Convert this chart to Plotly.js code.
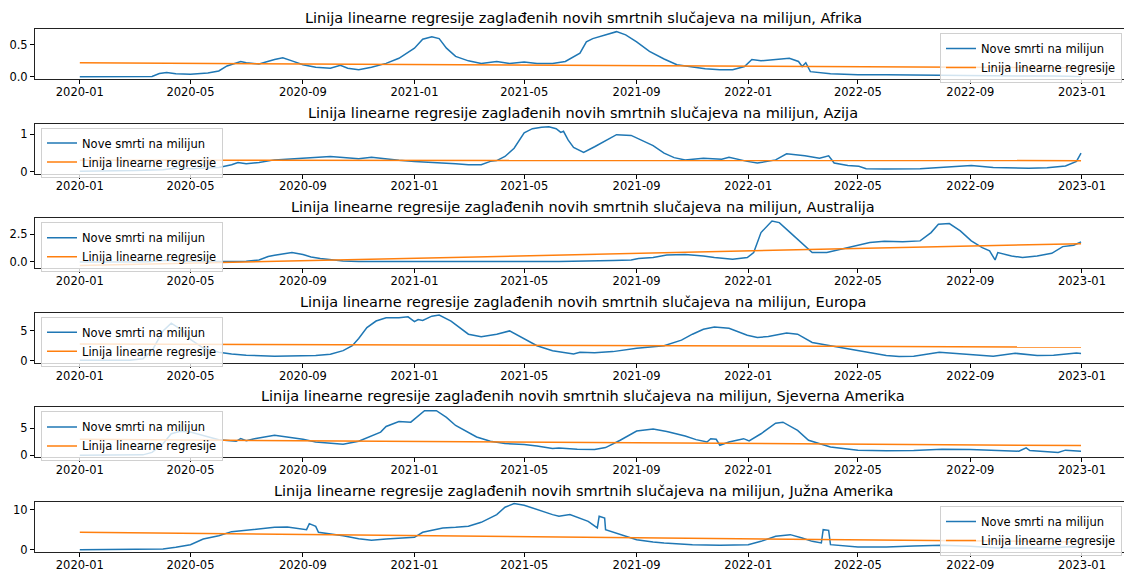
<!DOCTYPE html>
<html>
<head>
<meta charset="utf-8">
<script src="https://cdn.plot.ly/plotly-3.0.1.min.js"></script>
<style>html,body{margin:0;padding:0;background:#fff}</style>
</head>
<body>
<div id="chart" style="width:1124px;height:572px"></div>
<script>
// ---------- DATA ----------
const regionNames = ["Afrika", "Azija", "Australija", "Europa", "Sjeverna Amerika", "Južna Amerika"];
const seriesName = "Nove smrti na milijun";
const regName = "Linija linearne regresije";
const titlePrefix = "Linija linearne regresije zaglađenih novih smrtnih slučajeva na milijun, ";
const regDates = ["2020-01-01", "2022-12-31"];

const afrikaDates = ["2020-01-01","2020-03-20","2020-03-28","2020-04-05","2020-04-15","2020-05-01","2020-05-20","2020-06-01","2020-06-10","2020-06-20","2020-06-25","2020-07-01","2020-07-15","2020-08-01","2020-08-10","2020-08-20","2020-09-01","2020-09-15","2020-10-01","2020-10-12","2020-10-20","2020-11-01","2020-11-15","2020-12-01","2020-12-15","2021-01-01","2021-01-10","2021-01-20","2021-01-28","2021-02-05","2021-02-15","2021-03-01","2021-03-15","2021-04-01","2021-04-15","2021-05-01","2021-05-15","2021-06-01","2021-06-15","2021-07-01","2021-07-08","2021-07-15","2021-08-01","2021-08-10","2021-08-20","2021-09-01","2021-09-15","2021-10-01","2021-10-15","2021-11-01","2021-11-15","2021-12-01","2021-12-15","2021-12-28","2022-01-05","2022-01-15","2022-02-01","2022-02-15","2022-02-25","2022-03-01","2022-03-05","2022-03-10","2022-04-01","2022-05-01","2022-06-01","2022-07-01","2022-08-01","2022-09-01","2022-10-01","2022-11-01","2022-12-01","2022-12-31"];
const afrikaValues = [0.0,0.005,0.05,0.065,0.045,0.04,0.06,0.09,0.17,0.22,0.24,0.22,0.20,0.27,0.30,0.25,0.19,0.15,0.135,0.18,0.135,0.11,0.15,0.21,0.29,0.45,0.59,0.63,0.60,0.45,0.32,0.25,0.21,0.24,0.21,0.23,0.21,0.21,0.24,0.37,0.55,0.60,0.67,0.71,0.66,0.55,0.40,0.28,0.19,0.15,0.125,0.11,0.11,0.16,0.27,0.25,0.27,0.29,0.24,0.16,0.22,0.08,0.047,0.03,0.03,0.026,0.02,0.01,0.01,0.01,0.01,0.005];
const afrikaReg = [0.22, 0.14];

const azijaDates = ["2020-01-01","2020-02-01","2020-03-01","2020-04-01","2020-04-20","2020-05-01","2020-05-15","2020-06-01","2020-06-15","2020-06-22","2020-07-01","2020-07-15","2020-08-01","2020-08-15","2020-09-01","2020-09-15","2020-10-01","2020-10-15","2020-11-01","2020-11-15","2020-12-01","2020-12-15","2021-01-01","2021-01-15","2021-02-01","2021-02-15","2021-03-01","2021-03-15","2021-03-25","2021-04-01","2021-04-10","2021-04-20","2021-05-01","2021-05-10","2021-05-20","2021-05-28","2021-06-05","2021-06-10","2021-06-13","2021-06-18","2021-06-24","2021-07-05","2021-07-17","2021-07-29","2021-08-10","2021-08-26","2021-09-07","2021-09-19","2021-10-01","2021-10-12","2021-10-24","2021-11-13","2021-12-03","2021-12-11","2021-12-31","2022-01-11","2022-01-31","2022-02-12","2022-03-04","2022-03-20","2022-03-30","2022-04-05","2022-04-20","2022-05-02","2022-05-10","2022-05-30","2022-07-08","2022-08-17","2022-09-02","2022-09-26","2022-11-04","2022-11-24","2022-12-14","2022-12-26","2022-12-31"];
const azijaValues = [0.02,0.026,0.035,0.06,0.12,0.087,0.095,0.12,0.19,0.25,0.22,0.25,0.32,0.34,0.36,0.39,0.41,0.38,0.35,0.39,0.34,0.31,0.28,0.26,0.25,0.22,0.19,0.19,0.28,0.30,0.41,0.63,1.04,1.15,1.19,1.20,1.15,1.05,1.08,0.85,0.65,0.52,0.67,0.84,0.99,0.97,0.84,0.70,0.50,0.38,0.32,0.365,0.34,0.39,0.28,0.235,0.32,0.48,0.43,0.365,0.43,0.235,0.17,0.15,0.087,0.078,0.087,0.157,0.17,0.12,0.095,0.11,0.157,0.28,0.50];
const azijaReg = [0.31, 0.30];

const australijaDates = ["2020-01-01","2020-03-15","2020-04-05","2020-04-25","2020-06-01","2020-07-01","2020-07-15","2020-07-25","2020-08-01","2020-08-15","2020-08-20","2020-09-01","2020-09-10","2020-09-20","2020-10-01","2020-10-15","2020-11-01","2021-03-01","2021-06-08","2021-08-06","2021-08-26","2021-09-03","2021-09-19","2021-10-04","2021-10-24","2021-11-13","2021-11-25","2021-12-15","2021-12-31","2022-01-07","2022-01-15","2022-01-27","2022-02-04","2022-02-16","2022-03-04","2022-03-12","2022-03-28","2022-04-12","2022-04-24","2022-05-14","2022-05-30","2022-06-19","2022-07-08","2022-07-20","2022-07-28","2022-08-09","2022-08-21","2022-09-02","2022-09-14","2022-09-22","2022-09-28","2022-10-01","2022-10-16","2022-10-28","2022-11-13","2022-11-29","2022-12-11","2022-12-23","2022-12-31"];
const australijaValues = [0.0,0.01,0.15,0.05,0.03,0.06,0.18,0.48,0.60,0.78,0.84,0.66,0.45,0.30,0.18,0.09,0.03,0.02,0.03,0.12,0.18,0.30,0.39,0.63,0.66,0.54,0.39,0.24,0.39,0.84,2.65,3.70,3.55,2.65,1.44,0.84,0.84,1.14,1.38,1.75,1.87,1.81,1.90,2.65,3.40,3.46,2.80,1.90,1.29,0.99,0.18,0.84,0.54,0.39,0.54,0.78,1.38,1.50,1.81];
const australijaReg = [-0.33, 1.65];

const europaDates = ["2020-01-01","2020-02-25","2020-03-10","2020-03-20","2020-04-01","2020-04-10","2020-04-20","2020-05-01","2020-05-15","2020-06-01","2020-06-15","2020-07-01","2020-08-01","2020-09-01","2020-09-15","2020-10-01","2020-10-15","2020-10-25","2020-11-01","2020-11-10","2020-11-20","2020-12-01","2020-12-15","2020-12-25","2021-01-01","2021-01-05","2021-01-10","2021-01-20","2021-01-28","2021-02-10","2021-02-20","2021-03-01","2021-03-15","2021-04-01","2021-04-15","2021-05-01","2021-05-15","2021-06-01","2021-06-08","2021-06-24","2021-07-01","2021-07-17","2021-08-06","2021-09-01","2021-10-01","2021-10-20","2021-11-01","2021-11-13","2021-11-25","2021-12-11","2021-12-31","2022-01-11","2022-01-23","2022-02-12","2022-02-24","2022-03-12","2022-04-01","2022-05-01","2022-06-01","2022-06-15","2022-07-01","2022-07-29","2022-09-01","2022-09-26","2022-10-20","2022-11-13","2022-12-01","2022-12-26","2022-12-31"];
const europaValues = [0.08,0.1,0.33,1.7,5.0,6.3,5.3,3.6,2.14,1.43,1.15,0.93,0.77,0.82,0.88,1.10,1.70,2.53,3.74,5.55,6.65,7.2,7.2,7.36,6.54,6.9,6.76,7.47,7.64,6.65,5.55,4.45,4.01,4.45,5.0,3.63,2.53,1.70,1.54,1.15,1.43,1.37,1.54,2.09,2.53,3.46,4.45,5.28,5.66,5.44,4.29,3.9,4.07,4.67,4.45,3.08,2.53,1.70,0.88,0.71,0.77,1.43,0.99,0.77,1.26,0.88,0.93,1.32,1.21];
const europaReg = [2.8, 2.3];

const sjAmerikaDates = ["2020-01-01","2020-03-10","2020-03-20","2020-04-01","2020-04-10","2020-04-20","2020-05-01","2020-05-15","2020-06-01","2020-06-20","2020-06-25","2020-07-01","2020-07-10","2020-08-01","2020-08-15","2020-09-01","2020-09-15","2020-10-01","2020-10-15","2020-11-01","2020-11-15","2020-11-25","2020-12-01","2020-12-15","2020-12-28","2021-01-01","2021-01-12","2021-01-25","2021-02-05","2021-02-15","2021-02-25","2021-03-10","2021-03-25","2021-04-10","2021-05-01","2021-05-15","2021-06-01","2021-06-08","2021-06-28","2021-07-17","2021-07-29","2021-08-14","2021-09-01","2021-09-19","2021-10-04","2021-10-24","2021-11-05","2021-11-17","2021-11-21","2021-11-27","2021-12-01","2021-12-11","2021-12-27","2022-01-02","2022-01-15","2022-01-31","2022-02-08","2022-02-24","2022-03-08","2022-03-20","2022-04-01","2022-05-01","2022-06-01","2022-07-01","2022-08-01","2022-09-01","2022-10-01","2022-10-24","2022-11-01","2022-11-05","2022-12-06","2022-12-14","2022-12-31"];
const sjAmerikaValues = [0.0,0.05,0.5,2.1,3.96,4.4,4.27,3.66,2.87,2.56,3.05,2.68,3.05,3.66,3.36,2.93,2.44,2.14,2.0,2.56,3.54,4.27,5.3,6.22,6.1,6.7,8.24,8.24,7.0,5.49,4.57,3.36,2.56,2.14,1.95,1.71,1.22,1.34,1.10,1.04,1.40,2.75,4.45,4.82,4.39,3.54,2.87,2.44,3.05,2.93,1.83,2.44,3.05,2.62,3.96,5.92,6.1,4.57,2.75,2.14,1.52,0.92,0.79,0.85,1.10,1.04,0.92,0.73,1.34,0.85,0.49,0.92,0.73];
const sjAmerikaReg = [2.93, 1.77];

const juzAmerikaDates = ["2020-01-01","2020-03-20","2020-04-01","2020-04-15","2020-05-01","2020-05-15","2020-06-01","2020-06-15","2020-07-01","2020-07-15","2020-08-01","2020-08-15","2020-09-01","2020-09-05","2020-09-08","2020-09-15","2020-09-18","2020-10-01","2020-10-15","2020-11-01","2020-11-15","2020-12-01","2020-12-15","2021-01-01","2021-01-10","2021-02-01","2021-02-15","2021-03-01","2021-03-15","2021-04-01","2021-04-10","2021-04-20","2021-05-01","2021-05-15","2021-06-01","2021-06-08","2021-06-20","2021-07-10","2021-07-20","2021-07-22","2021-07-28","2021-07-29","2021-08-14","2021-09-01","2021-09-19","2021-10-01","2021-11-01","2021-12-01","2022-01-01","2022-01-15","2022-01-31","2022-02-16","2022-03-01","2022-03-12","2022-03-22","2022-03-24","2022-03-30","2022-04-01","2022-05-01","2022-06-01","2022-07-01","2022-08-01","2022-09-01","2022-10-01","2022-11-01","2022-12-01","2022-12-20","2022-12-31"];
const juzAmerikaValues = [0.0,0.02,0.17,0.58,1.25,2.67,3.5,4.5,4.83,5.17,5.58,5.67,5.25,5.0,6.5,5.83,4.33,3.92,3.5,2.75,2.33,2.67,2.83,3.08,4.33,5.42,5.58,5.83,6.83,8.75,10.6,11.5,11.1,10.0,8.75,8.33,8.75,7.08,5.42,8.33,7.9,5.0,3.75,2.5,1.92,1.67,1.25,1.08,1.25,2.08,3.33,3.75,2.92,2.08,1.67,5.0,4.83,1.25,0.67,0.67,0.92,1.08,0.83,0.42,0.42,0.5,0.75,0.67];
const juzAmerikaReg = [4.33, 1.92];

const yRanges = [[-0.036, 0.752], [-0.045, 1.285], [-0.57, 3.95], [-0.33, 8.03], [-0.42, 8.84], [-0.58, 11.9]];
const yDticks = [0.5, 1, 2.5, 5, 5, 10];
const yFormats = [".1f", "d", ".1f", "d", "d", "d"];
const legendRight = [true, false, false, false, false, true];

// ---------- BUILD ----------
const allDates = [afrikaDates, azijaDates, australijaDates, europaDates, sjAmerikaDates, juzAmerikaDates];
const allValues = [afrikaValues, azijaValues, australijaValues, europaValues, sjAmerikaValues, juzAmerikaValues];
const allReg = [afrikaReg, azijaReg, australijaReg, europaReg, sjAmerikaReg, juzAmerikaReg];

const W = 1124, H = 572, PITCH = 94.6;
const font = "DejaVu Sans";
const traces = [];
const layout = {
  width: W, height: H,
  margin: {l: 0, r: 0, t: 0, b: 0},
  paper_bgcolor: "#fff", plot_bgcolor: "#fff",
  font: {family: font, size: 11.5, color: "#000"},
  showlegend: true,
  annotations: []
};

for (let k = 0; k < 6; k++) {
  const top = 29 + PITCH * k, bot = top + 50;
  const sfx = k === 0 ? "" : String(k + 1);
  const lg = "legend" + sfx;
  traces.push({
    x: allDates[k], y: allValues[k], type: "scatter", mode: "lines",
    name: seriesName, line: {color: "#1f77b4", width: 1.5},
    xaxis: "x" + sfx, yaxis: "y" + sfx, legend: lg, hoverinfo: "skip"
  });
  traces.push({
    x: regDates, y: allReg[k], type: "scatter", mode: "lines",
    name: regName, line: {color: "#ff7f0e", width: 1.5},
    xaxis: "x" + sfx, yaxis: "y" + sfx, legend: lg, hoverinfo: "skip"
  });
  layout["xaxis" + sfx] = {
    domain: [35 / W, 1], anchor: "y" + sfx,
    type: "date", range: ["2019-11-13", "2023-02-16"],
    tick0: "2020-01-01", dtick: "M4", tickformat: "%Y-%m",
    ticks: "outside", ticklen: 4, tickcolor: "#000", tickwidth: 1,
    ticklabelstandoff: -2,
    showline: true, linecolor: "#222", linewidth: 1, mirror: true,
    showgrid: false, zeroline: false,
    tickfont: {family: font, size: 11.5, color: "#000"}
  };
  layout["yaxis" + sfx] = {
    domain: [1 - bot / H, 1 - top / H], anchor: "x" + sfx,
    range: yRanges[k], tick0: 0, dtick: yDticks[k], tickformat: yFormats[k],
    ticks: "outside", ticklen: 4, tickcolor: "#000", tickwidth: 1,
    showline: true, linecolor: "#222", linewidth: 1, mirror: false,
    showgrid: false, zeroline: false,
    tickfont: {family: font, size: 11.5, color: "#000"}
  };
  layout[lg] = {
    x: legendRight[k] ? 1122 / W : 41 / W,
    xanchor: legendRight[k] ? "right" : "left",
    y: 1 - (top + 4) / H, yanchor: "top",
    bgcolor: "rgba(255,255,255,0.8)", bordercolor: "#d0d0d0", borderwidth: 1,
    font: {family: font, size: 11.5, color: "#000"},
    itemwidth: 30, tracegroupgap: 0
  };
  layout.annotations.push({
    text: titlePrefix + regionNames[k],
    xref: "paper", yref: "paper", x: 583 / W, y: 1 - (top - 11) / H,
    xanchor: "center", yanchor: "middle", showarrow: false,
    font: {family: font, size: 14.5, color: "#000"}
  });
}

Plotly.newPlot("chart", traces, layout, {displayModeBar: false, staticPlot: true});
</script>
</body>
</html>
